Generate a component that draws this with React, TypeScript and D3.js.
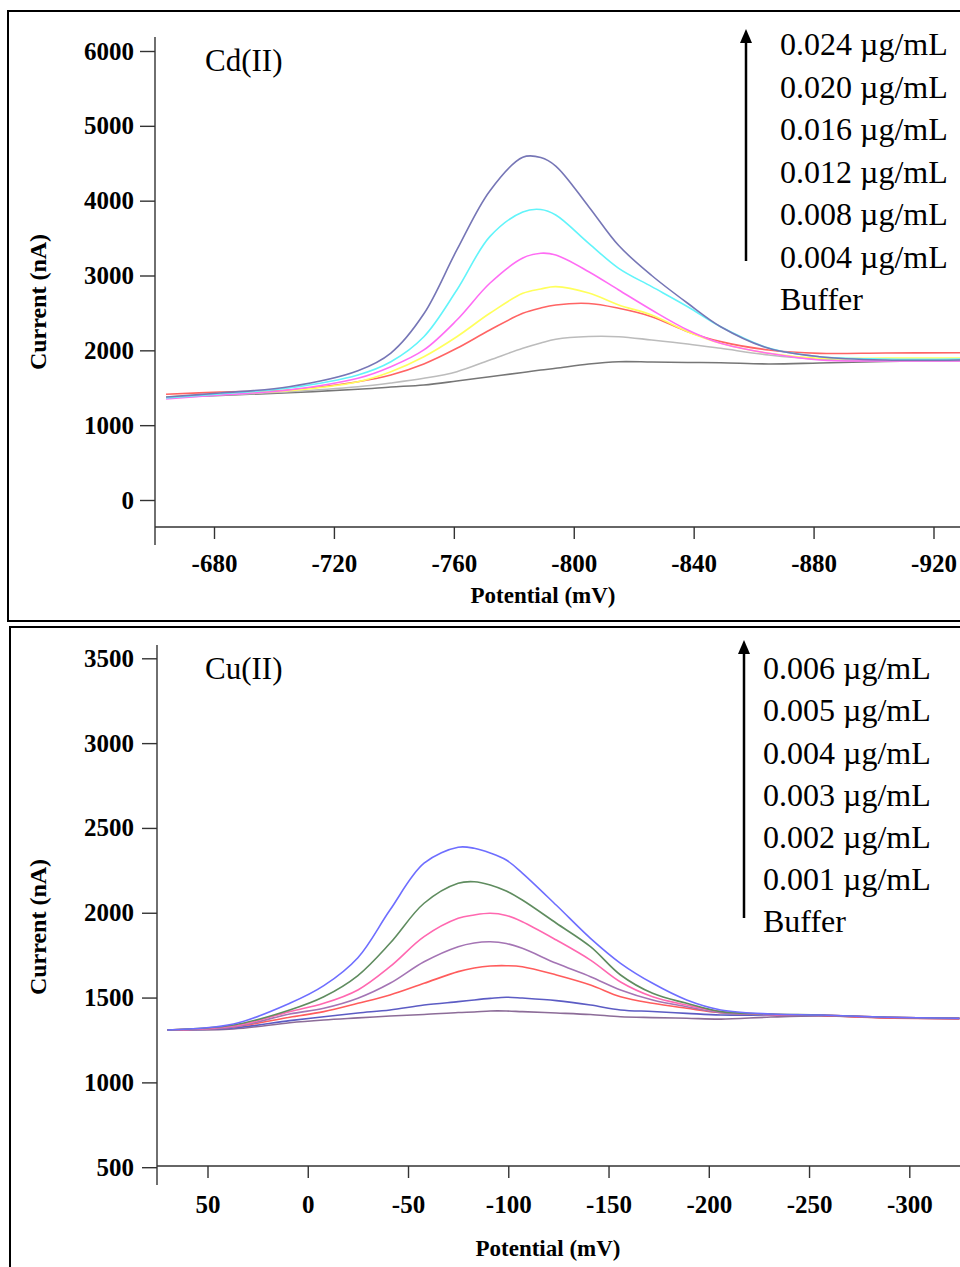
import React, { useEffect, useRef } from 'react';
import * as d3 from 'd3';

// Cd(II) panel, potentials in mV, currents in nA
const cdPotential = [-664, -682, -705, -728, -739, -750, -761, -772, -783, -789, -794, -805, -815, -826, -838, -849, -865, -882, -904, -929];
const cd024 = [1376, 1430, 1514, 1728, 1964, 2488, 3341, 4130, 4580, 4577, 4463, 3920, 3400, 3000, 2629, 2316, 2027, 1915, 1871, 1871];
const cd020 = [1363, 1417, 1497, 1671, 1848, 2182, 2806, 3519, 3849, 3882, 3809, 3430, 3096, 2851, 2583, 2316, 2031, 1915, 1884, 1884];
const cd016 = [1350, 1403, 1470, 1626, 1781, 2005, 2405, 2896, 3234, 3297, 3274, 3051, 2806, 2539, 2272, 2094, 1960, 1871, 1858, 1858];
const cd012 = [1376, 1417, 1461, 1581, 1715, 1915, 2182, 2495, 2762, 2820, 2851, 2766, 2606, 2472, 2249, 2094, 1960, 1894, 1898, 1898];
const cd008 = [1413, 1443, 1470, 1581, 1671, 1818, 2027, 2272, 2495, 2566, 2606, 2626, 2562, 2450, 2249, 2116, 2005, 1960, 1965, 1968];
const cd004 = [1376, 1403, 1447, 1514, 1564, 1626, 1715, 1871, 2027, 2098, 2148, 2185, 2182, 2138, 2085, 2027, 1938, 1880, 1858, 1858];
const cdBuffer = [1376, 1397, 1434, 1479, 1510, 1537, 1590, 1648, 1704, 1737, 1760, 1818, 1848, 1844, 1838, 1835, 1818, 1831, 1851, 1871];
const cdLabels = ['0.024 µg/mL', '0.020 µg/mL', '0.016 µg/mL', '0.012 µg/mL', '0.008 µg/mL', '0.004 µg/mL', 'Buffer'];
const cdColors = ['#7676b6', '#62f4fa', '#ff6cf4', '#ffff5c', '#ff6464', '#bcbcbc', '#767676'];
const cdXTicks = [-680, -720, -760, -800, -840, -880, -920];
const cdYTicks = [0, 1000, 2000, 3000, 4000, 5000, 6000];

// Cu(II) panel
const cuPotential = [70, 37, 9, -8, -25, -41, -58, -75, -83, -91, -99, -107, -124, -141, -156, -172, -189, -206, -231, -256, -289, -325];
const cu006 = [1309, 1344, 1466, 1570, 1735, 2016, 2292, 2386, 2380, 2352, 2311, 2234, 2044, 1849, 1702, 1584, 1486, 1427, 1403, 1397, 1384, 1378];
const cu005 = [1309, 1338, 1427, 1505, 1630, 1820, 2056, 2174, 2183, 2164, 2128, 2075, 1938, 1800, 1633, 1525, 1466, 1417, 1403, 1397, 1384, 1378];
const cu004 = [1309, 1332, 1417, 1466, 1545, 1682, 1859, 1967, 1987, 1997, 1984, 1947, 1839, 1721, 1592, 1505, 1456, 1417, 1400, 1397, 1384, 1378];
const cu003 = [1309, 1327, 1403, 1437, 1496, 1584, 1711, 1800, 1822, 1829, 1819, 1790, 1702, 1623, 1545, 1486, 1446, 1411, 1400, 1397, 1384, 1378];
const cu002 = [1309, 1327, 1384, 1417, 1466, 1515, 1584, 1653, 1674, 1686, 1688, 1682, 1633, 1574, 1505, 1466, 1437, 1411, 1400, 1394, 1380, 1376];
const cu001 = [1309, 1321, 1364, 1387, 1409, 1427, 1456, 1476, 1486, 1495, 1502, 1497, 1482, 1456, 1427, 1418, 1407, 1397, 1397, 1394, 1382, 1376];
const cuBuffer = [1309, 1315, 1352, 1368, 1380, 1391, 1400, 1412, 1415, 1421, 1421, 1417, 1409, 1400, 1387, 1382, 1378, 1373, 1385, 1391, 1380, 1376];
const cuLabels = ['0.006 µg/mL', '0.005 µg/mL', '0.004 µg/mL', '0.003 µg/mL', '0.002 µg/mL', '0.001 µg/mL', 'Buffer'];
const cuColors = ['#6e6eff', '#5f8c5f', '#ff68b0', '#a474b4', '#ff5c5c', '#5c5cc4', '#8c6c98'];
const cuXTicks = [50, 0, -50, -100, -150, -200, -250, -300];
const cuYTicks = [500, 1000, 1500, 2000, 2500, 3000, 3500];

const serif = '"Liberation Serif", "Times New Roman", serif';

function drawPanel(svg, p) {
    const g = svg.append('g');

    // frame
    g.append('rect')
        .attr('x', p.frame[0]).attr('y', p.frame[1])
        .attr('width', 980).attr('height', p.frame[2])
        .attr('fill', 'none').attr('stroke', '#000').attr('stroke-width', 2);

    const line = d3.line()
        .x(d => p.x(d[0]))
        .y(d => p.y(d[1]))
        .curve(d3.curveCatmullRom.alpha(0.5));

    // reversed so the buffer is drawn first
    p.series.slice().reverse().forEach((s, i) => {
        const idx = p.series.length - 1 - i;
        g.append('path')
            .datum(p.potential.map((v, j) => [v, s[j]]))
            .attr('d', line)
            .attr('fill', 'none')
            .attr('stroke', p.colors[idx])
            .attr('stroke-width', 1.6);
    });

    // axes
    const yAxis = d3.axisLeft(p.y).tickValues(p.yTicks).tickSize(15).tickPadding(p.yPad).tickFormat(d => String(d));
    const ya = g.append('g').attr('transform', `translate(${p.axisX},0)`).call(yAxis);
    ya.select('.domain').remove();

    const xAxis = d3.axisBottom(p.x).tickValues(p.xTicks).tickSize(12).tickFormat(d => String(d));
    const xa = g.append('g').attr('transform', `translate(0,${p.axisY})`).call(xAxis);
    xa.select('.domain').remove();
    xa.selectAll('text').attr('y', p.xLabelDy).attr('dy', '0.35em');

    [ya, xa].forEach(a => {
        a.selectAll('text')
            .style('font-family', serif)
            .style('font-weight', 'bold')
            .style('font-size', '25px')
            .attr('fill', '#000');
        a.selectAll('line').attr('stroke', '#333').attr('stroke-width', 1.4);
    });

    g.append('line')
        .attr('x1', p.axisX).attr('x2', p.axisX)
        .attr('y1', p.yLine[0]).attr('y2', p.yLine[1])
        .attr('stroke', '#333').attr('stroke-width', 1.4);
    g.append('line')
        .attr('x1', p.axisX).attr('x2', 960)
        .attr('y1', p.axisY).attr('y2', p.axisY)
        .attr('stroke', '#333').attr('stroke-width', 1.4);

    // axis titles
    g.append('text')
        .attr('x', p.xTitle[0]).attr('y', p.xTitle[1])
        .attr('text-anchor', 'middle').attr('dy', '0.35em')
        .style('font-family', serif).style('font-weight', 'bold').style('font-size', '23px')
        .text('Potential (mV)');
    g.append('text')
        .attr('transform', `translate(${p.yTitle[0]},${p.yTitle[1]}) rotate(-90)`)
        .attr('text-anchor', 'middle').attr('dy', '0.35em')
        .style('font-family', serif).style('font-weight', 'bold').style('font-size', '24px')
        .text('Current (nA)');

    // panel name
    g.append('text')
        .attr('x', 205).attr('y', p.nameY)
        .attr('dy', '0.35em')
        .style('font-family', serif).style('font-size', '31px')
        .text(p.name);

    // legend
    const lg = g.append('g');
    lg.selectAll('text')
        .data(p.labels)
        .join('text')
        .attr('x', p.legendX)
        .attr('y', (d, i) => p.legendY + i * p.legendStep)
        .attr('dy', '0.35em')
        .style('font-family', serif).style('font-size', '32px')
        .text(d => d);

    lg.append('line')
        .attr('x1', p.arrowX).attr('x2', p.arrowX)
        .attr('y1', p.arrow[1]).attr('y2', p.arrow[0] + 10)
        .attr('stroke', '#000').attr('stroke-width', 2.5);
    lg.append('path')
        .attr('d', `M${p.arrowX - 6},${p.arrow[0] + 14} L${p.arrowX},${p.arrow[0]} L${p.arrowX + 6},${p.arrow[0] + 14} Z`)
        .attr('fill', '#000');
}

function App() {
    const svgRef = useRef();

    useEffect(() => {
        const svg = d3.select(svgRef.current);
        svg.selectAll('*').remove();

        drawPanel(svg, {
            name: 'Cd(II)',
            frame: [8, 11, 610],
            potential: cdPotential,
            series: [cd024, cd020, cd016, cd012, cd008, cd004, cdBuffer],
            colors: cdColors,
            labels: cdLabels,
            x: d3.scaleLinear().domain([-680, -920]).range([214, 933.5]),
            y: d3.scaleLinear().domain([0, 6000]).range([500, 51]),
            xTicks: cdXTicks,
            yTicks: cdYTicks,
            axisX: 155,
            axisY: 527,
            yLine: [37, 545],
            yPad: 6,
            xLabelDy: 36,
            xTitle: [543, 595],
            yTitle: [38, 302],
            nameY: 60,
            legendX: 780,
            legendY: 44,
            legendStep: 42.5,
            arrowX: 746,
            arrow: [29, 261],
        });

        drawPanel(svg, {
            name: 'Cu(II)',
            frame: [10, 627, 700],
            potential: cuPotential,
            series: [cu006, cu005, cu004, cu003, cu002, cu001, cuBuffer],
            colors: cuColors,
            labels: cuLabels,
            x: d3.scaleLinear().domain([50, -300]).range([207.5, 909.3]),
            y: d3.scaleLinear().domain([500, 3500]).range([1167.2, 658.3]),
            xTicks: cuXTicks,
            yTicks: cuYTicks,
            axisX: 157,
            axisY: 1166,
            yLine: [645, 1185],
            yPad: 8,
            xLabelDy: 38,
            xTitle: [548, 1248],
            yTitle: [38, 927],
            nameY: 668,
            legendX: 763,
            legendY: 668,
            legendStep: 42.2,
            arrowX: 744,
            arrow: [640, 918],
        });
    }, []);

    return (
        <svg
            ref={svgRef}
            width={960}
            height={1267}
            style={{ position: 'absolute', left: 0, top: 0, background: '#fff' }}
        />
    );
}

export default App;
